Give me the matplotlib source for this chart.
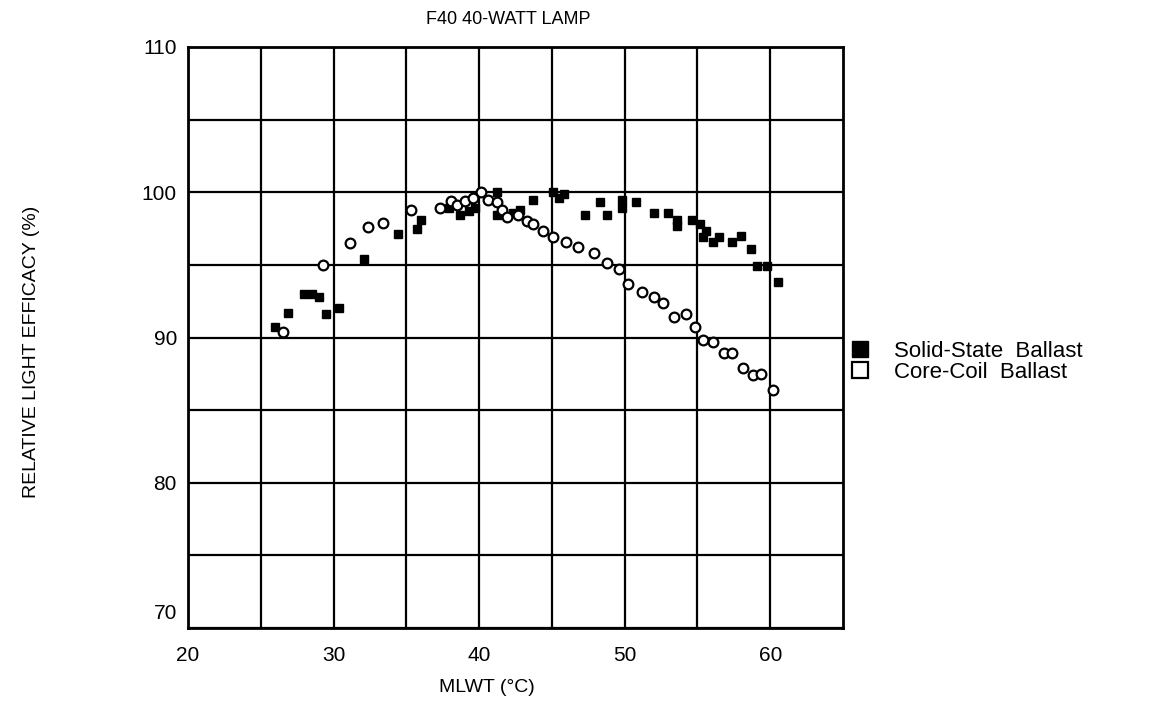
import matplotlib
matplotlib.use("Agg")
import matplotlib.pyplot as plt
import matplotlib.transforms as mtransforms
from matplotlib.lines import Line2D

plt.rcParams['font.family'] = ['Liberation Sans', 'DejaVu Sans']

# Solid-State Ballast (filled squares)
solid_x = [26.0, 26.9, 28.0, 28.5, 29.0, 29.5, 30.4, 32.1, 34.4, 35.7, 36.0, 37.9,
           38.7, 39.3, 39.7, 41.2, 41.2, 42.3, 42.8, 43.7, 45.1, 45.5, 45.8, 47.3,
           48.3, 48.8, 49.8, 49.8, 50.8, 52.0, 53.0, 53.6, 53.6, 54.6, 55.2, 55.4,
           55.6, 56.1, 56.5, 57.4, 58.0, 58.7, 59.1, 59.8, 60.5]
solid_y = [90.7, 91.7, 93.0, 93.0, 92.8, 91.6, 92.0, 95.4, 97.1, 97.5, 98.1, 98.9,
           98.4, 98.7, 98.9, 100.0, 98.4, 98.6, 98.8, 99.5, 100.0, 99.6, 99.9, 98.4,
           99.3, 98.4, 99.5, 98.9, 99.3, 98.6, 98.6, 98.1, 97.7, 98.1, 97.8, 96.9,
           97.3, 96.6, 96.9, 96.6, 97.0, 96.1, 94.9, 94.9, 93.8]

# Core-Coil Ballast (open circles)
coil_x = [26.5, 29.3, 31.1, 32.4, 33.4, 35.3, 37.3, 38.1, 38.5, 39.0, 39.6, 40.1,
          40.6, 41.2, 41.6, 41.9, 42.7, 43.3, 43.7, 44.4, 45.1, 46.0, 46.8, 47.9,
          48.8, 49.6, 50.2, 51.2, 52.0, 52.6, 53.4, 54.2, 54.8, 55.4, 56.1, 56.8,
          57.4, 58.1, 58.8, 59.4, 60.2]
coil_y = [90.4, 95.0, 96.5, 97.6, 97.9, 98.8, 98.9, 99.4, 99.1, 99.4, 99.6, 100.0,
          99.5, 99.3, 98.8, 98.3, 98.4, 98.0, 97.8, 97.3, 96.9, 96.6, 96.2, 95.8,
          95.1, 94.7, 93.7, 93.1, 92.8, 92.4, 91.4, 91.6, 90.7, 89.8, 89.7, 88.9,
          88.9, 87.9, 87.4, 87.5, 86.4]

x_ticks = [20, 30, 40, 50, 60]
y_ticks = [70, 80, 90, 100, 110]

fig = plt.figure(figsize=(11.54, 7.09), dpi=100)
ax = fig.add_axes([188 / 1154, 1 - 628 / 709, 655 / 1154, 581 / 709])

ax.set_xlim(20, 65)
ax.set_ylim(70, 110)
ax.set_xticks(x_ticks)
ax.set_yticks(y_ticks)
ax.set_xticks(range(25, 65, 10), minor=True)
ax.set_yticks(range(75, 110, 10), minor=True)
ax.grid(True, which='both', color='black', linewidth=1.6)
ax.set_axisbelow(True)
ax.tick_params(which='both', length=0)
ax.tick_params(axis='x', labelsize=15, pad=13)
ax.tick_params(axis='y', labelsize=15, pad=8)
for s in ax.spines.values():
    s.set_linewidth(2)

# the "70" label sits a bit above the corner in the original
lbl70 = ax.get_yticklabels()[0]
lbl70.set_transform(lbl70.get_transform() +
                    mtransforms.ScaledTranslation(0, 12 / 72, fig.dpi_scale_trans))

ax.plot(solid_x, solid_y, 's', color='black', markersize=5.5, linestyle='none', zorder=3)
ax.plot(coil_x, coil_y, 'o', markerfacecolor='white', markeredgecolor='black',
        markeredgewidth=1.6, markersize=7, linestyle='none', zorder=4)

fig.text(508 / 1154, 1 - 20 / 709, 'F40 40-WATT LAMP', ha='center', va='center', fontsize=13)
fig.text(487 / 1154, 1 - 688 / 709, 'MLWT (°C)', ha='center', va='center', fontsize=14)
fig.text(32 / 1154, 1 - 352 / 709, 'RELATIVE LIGHT EFFICACY (%)', ha='center', va='center',
         rotation=90, fontsize=14)

handles = [
    Line2D([], [], marker='s', color='black', markersize=11, linestyle='none'),
    Line2D([], [], marker='s', markerfacecolor='white', markeredgecolor='black',
           markeredgewidth=1.6, markersize=11, linestyle='none'),
]
fig.legend(handles, ['Solid-State  Ballast', 'Core-Coil  Ballast'],
           loc='center left', bbox_to_anchor=(836 / 1154, 1 - 362 / 709),
           frameon=False, fontsize=16, handlelength=1.2, handletextpad=0.9,
           labelspacing=0.0, borderpad=0)

fig.savefig('out.png', dpi=100)
